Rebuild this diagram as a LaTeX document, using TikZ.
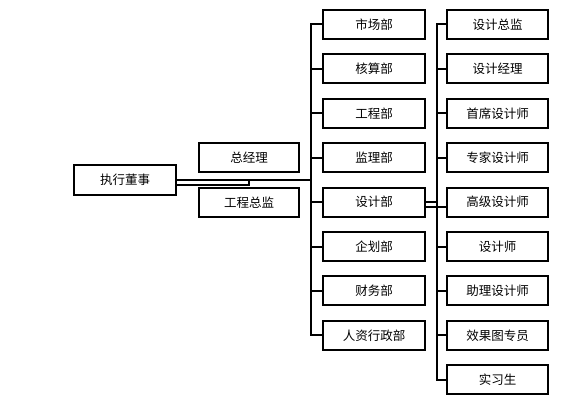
\documentclass[tikz,border=0pt]{standalone}
\usepackage{fontspec}
\setmainfont{Noto Sans CJK SC}
\begin{document}
\begin{tikzpicture}[x=1pt,y=-1pt,
  box/.style={draw=black,line width=2pt,fill=white,inner sep=0pt,minimum height=29pt,font=\fontsize{12.5}{14}\selectfont},
  dept/.style={box,minimum width=102pt},
  role/.style={box,minimum width=101.5pt},
  conn/.style={draw=black,line width=2pt}]
\useasboundingbox[fill=white] (0,0) rectangle (579,404);
\node[box,minimum width=102pt,minimum height=30pt] (exec) at (125,180) {执行董事};
\node[box,minimum width=100pt] (gm) at (249,157.5) {总经理};
\node[box,minimum width=100pt] (ce) at (249,202.5) {工程总监};
\foreach \n/\t [count=\i from 0] in {d1/市场部,d2/核算部,d3/工程部,d4/监理部,d5/设计部,d6/企划部,d7/财务部,d8/人资行政部}
  \node[dept] (\n) at (374,24.5+44.4*\i) {\t};
\foreach \n/\t [count=\i from 0] in {r1/设计总监,r2/设计经理,r3/首席设计师,r4/专家设计师,r5/高级设计师,r6/设计师,r7/助理设计师,r8/效果图专员,r9/实习生}
  \node[role] (\n) at (497.5,24.5+44.4*\i) {\t};
\coordinate (b1) at (311,24.5);
\coordinate (b2) at (436.5,24.5);
% executive links
\draw[conn] (exec.east) -- (exec.east -| b1);
\draw[conn] ([yshift=-5pt]exec.east) -| (exec.east -| gm.center);
% department bus
\draw[conn,line cap=rect] (b1 |- d1.west) -- (b1 |- d8.west);
\foreach \n in {d1,d2,d3,d4,d5,d6,d7,d8}
  \draw[conn] (b1 |- \n.west) -- (\n.west);
% design bus
\draw[conn,line cap=rect] (b2 |- r1.west) -- (b2 |- r9.west);
\foreach \n in {r1,r2,r3,r4,r6,r7,r8,r9}
  \draw[conn] (b2 |- \n.west) -- (\n.west);
\draw[conn] ([yshift=0.6pt]d5.east) -- ([yshift=0.6pt]d5.east -| b2);
\draw[conn] ([yshift=-4.6pt]d5.east) -- ([yshift=-4.6pt]d5.east -| r5.west);
\end{tikzpicture}
\end{document}
